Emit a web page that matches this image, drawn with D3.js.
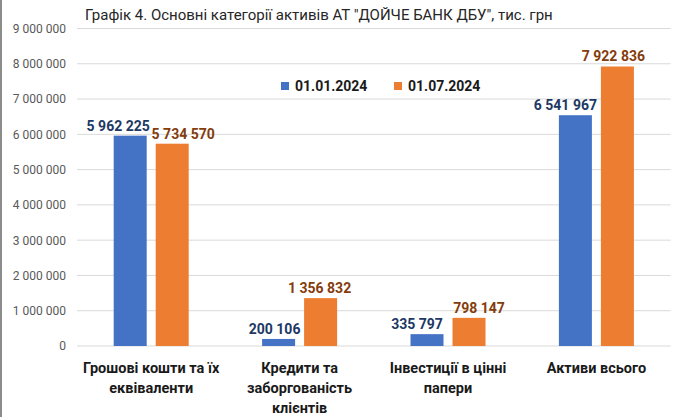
<!DOCTYPE html>
<html lang="uk">
<head>
<meta charset="UTF-8">
<title>Графік 4</title>
<script src="https://cdn.jsdelivr.net/npm/d3@7"></script>
<style>
  body { margin: 0; background: #fff; }
  svg { display: block; font-family: Roboto, "Noto Sans", sans-serif; }
</style>
</head>
<body>
<svg width="681" height="417" id="mainsvg"></svg>
<script>
const categories = [
  ['Грошові кошти та їх', 'еквіваленти'],
  ['Кредити та', 'заборгованість', 'клієнтів'],
  ['Інвестиції в цінні', 'папери'],
  ['Активи всього']
]
const seriesNames = ['01.01.2024', '01.07.2024']
const valuesJan = [5962225, 200106, 335797, 6541967]
const valuesJul = [5734570, 1356832, 798147, 7922836]
const yTicks = [0, 1000000, 2000000, 3000000, 4000000, 5000000, 6000000, 7000000, 8000000, 9000000]

const colors = ['#4472c4', '#ed7d31']
const labelColors = ['#203864', '#843c0c']
// small horizontal nudges of value labels, like in the original chart
const labelShift = [[-12, -4, -10, -10], [11, -1, 10, -4]]

const svg = d3.select('#mainsvg')
const margin = { top: 28.5, right: 10, bottom: 71, left: 77 }
const width = +svg.attr('width')
const height = +svg.attr('height')
const innerWidth = width - margin.left - margin.right - 0.4
const innerHeight = height - margin.top - margin.bottom

const locale = d3.formatLocale({ decimal: ',', thousands: ' ', grouping: [3], currency: ['', ''] })
const fmt = locale.format(',d')

// left frame line
svg.append('line').attr('x1', 1).attr('x2', 1).attr('y1', 0).attr('y2', height)
  .attr('stroke', '#8c8c8c').attr('stroke-width', 2)

const g = svg.append('g').attr('transform', `translate(${margin.left},${margin.top})`)

const keys = categories.map((c, i) => i)
const x0 = d3.scaleBand().domain(keys).range([0, innerWidth]).padding(0)
const half = 37.5
const x1 = d3.scaleBand().domain([0, 1])
  .range([x0.bandwidth() / 2 - half, x0.bandwidth() / 2 + half])
  .paddingInner(9 / 42)
const y = d3.scaleLinear().domain([0, 9000000]).range([innerHeight, 0])

// grid
g.append('g').selectAll('line').data(yTicks).enter().append('line')
  .attr('x1', 0).attr('x2', innerWidth)
  .attr('y1', d => y(d)).attr('y2', d => y(d))
  .attr('stroke', '#d9d9d9').attr('stroke-width', 1)

// y axis labels
const yAxis = d3.axisLeft(y).tickValues(yTicks).tickFormat(fmt).tickSize(0).tickPadding(11)
const ya = g.append('g').call(yAxis)
ya.select('.domain').remove()
ya.selectAll('text').attr('font-size', 12).attr('fill', '#595959')
  .attr('font-family', 'Roboto, sans-serif')

const series = [valuesJan, valuesJul]
const data = []
series.forEach((vals, s) => vals.forEach((v, i) => data.push({ s, i, v })))

g.selectAll('.bar').data(data).enter().append('rect')
  .attr('class', 'bar')
  .attr('x', d => x0(d.i) + x1(d.s))
  .attr('width', x1.bandwidth())
  .attr('y', d => y(d.v))
  .attr('height', d => y(0) - y(d.v))
  .attr('fill', d => colors[d.s])

g.selectAll('.vlabel').data(data).enter().append('text')
  .attr('class', 'vlabel')
  .attr('x', d => x0(d.i) + x1(d.s) + x1.bandwidth() / 2 + labelShift[d.s][d.i])
  .attr('y', d => y(d.v) - 5)
  .attr('text-anchor', 'middle')
  .attr('font-size', 14).attr('font-weight', 'bold')
  .attr('fill', d => labelColors[d.s])
  .text(d => fmt(d.v))

// category labels
const cat = g.selectAll('.cat').data(categories).enter().append('text')
  .attr('class', 'cat')
  .attr('text-anchor', 'middle')
  .attr('font-size', 14.5).attr('font-weight', 'bold').attr('fill', '#1a1a1a')
  .attr('transform', (d, i) => `translate(${x0(i) + x0.bandwidth() / 2},${innerHeight + 26.5})`)
cat.selectAll('tspan').data(d => d).enter().append('tspan')
  .attr('x', 0).attr('y', (d, j) => j * 20)
  .text(d => d)

// legend
const legend = svg.append('g').attr('transform', 'translate(281,86)')
const items = legend.selectAll('g').data(seriesNames).enter().append('g')
  .attr('transform', (d, i) => `translate(${i * 113},0)`)
items.append('rect').attr('x', 0).attr('y', -4).attr('width', 8).attr('height', 8)
  .attr('fill', (d, i) => colors[i])
items.append('text').attr('x', 14).attr('y', 5)
  .attr('font-size', 14).attr('font-weight', 'bold').attr('fill', '#1a1a1a')
  .text(d => d)

// title
svg.append('text').attr('x', 85).attr('y', 20)
  .attr('font-size', 15).attr('fill', '#262626')
  .text('Графік 4. Основні категорії активів АТ "ДОЙЧЕ БАНК ДБУ", тис. грн')
</script>
</body>
</html>
